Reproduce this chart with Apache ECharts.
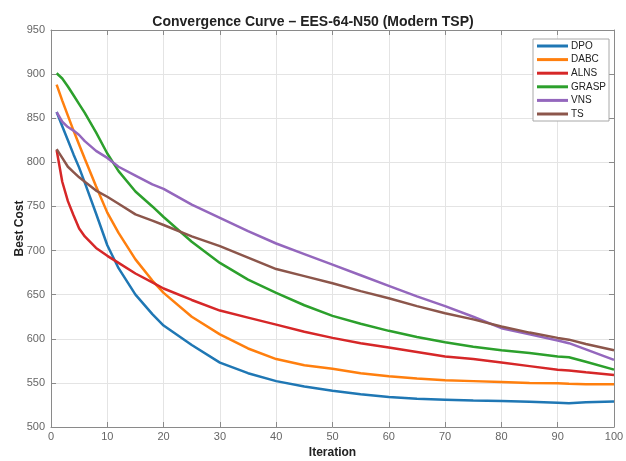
<!DOCTYPE html>
<html>
<head>
<meta charset="utf-8">
<script src="https://cdn.jsdelivr.net/npm/echarts@6/dist/echarts.min.js"></script>
<style>
html,body{margin:0;padding:0;background:#fff;}
#chart{width:626px;height:461px;}
</style>
</head>
<body>
<div id="chart"></div>
<script>
const titleText = 'Convergence Curve \u2013 EES-64-N50 (Modern TSP)';
const seriesNames = ['DPO', 'DABC', 'ALNS', 'GRASP', 'VNS', 'TS'];
const iterations = [1,2,3,4,5,6,8,10,12,15,18,20,25,30,35,40,45,50,55,60,65,70,75,80,85,90,92,95,100];
const dpo   = [857,841,825,809,794,777,742,706,680,650,628,615,593,573,561,552,546,541,537,534,532,531,530,529.5,528.5,527.5,527,528,529];
const dabc  = [888,870,853,836,820,804,773,743,720,690,666,652,625,605,589,577,570,566,561,557.5,555,553,552,551,550,549.5,549,548.5,548.5];
const alns  = [814,778,756,740,725,716,703,694,686,674,664,657,644,632,624,616,608,601,595,590,585,580,577,573,569,565,564,562,559];
const grasp = [901,895,886,876,866,856,834,810,790,767,750,738,710,686,667,652,638,626,617,609,602,596,591,587,584,580,579,574,565];
const vns   = [857,846,840,836,831,824,813,805,795,785,775,770,752,737,722,708,696,684,672,660,648,637,625,612,605,598,595,588,576];
const ts    = [815,805,795,789,783,778,768,761,753,741,734,729,716,705,692,679,671,663,654,646,637,629,622,614,607,601,599,594,587];
const seriesValues = [dpo, dabc, alns, grasp, vns, ts];
const colors = ['#1f77b4', '#ff7f0e', '#d62728', '#2ca02c', '#9467bd', '#8c564b'];

const chart = echarts.init(document.getElementById('chart'), null, {renderer: 'canvas'});
const font = 'Arial, "Liberation Sans", sans-serif';
const axisLineStyle = {color: '#8a8a8a', width: 1};
const gridLine = {show: true, lineStyle: {color: '#e4e4e4', width: 1}};

chart.setOption({
  animation: false,
  backgroundColor: '#ffffff',
  title: {
    text: titleText, left: 'center', top: 10,
    textStyle: {fontFamily: font, fontSize: 14, fontWeight: 'bold', color: '#222'}
  },
  grid: {left: 51, right: 12, top: 30, bottom: 34, containLabel: false, outerBoundsMode: 'none'},
  legend: {
    data: seriesNames, orient: 'vertical', left: 533, top: 39,
    icon: 'rect', itemWidth: 31, itemHeight: 3, itemGap: 1.6,
    padding: [1, 3, 1, 4],
    backgroundColor: '#fff', borderColor: '#a8a8a8', borderWidth: 1,
    textStyle: {fontFamily: font, fontSize: 10, color: '#222', lineHeight: 12, padding: [0, 0, 0, -2]}
  },
  xAxis: [{
    type: 'value', min: 0, max: 100, interval: 10,
    name: 'Iteration', nameLocation: 'middle', nameGap: 20,
    nameTextStyle: {fontFamily: font, fontSize: 12, fontWeight: 'bold', color: '#222'},
    axisLine: {show: true, onZero: false, lineStyle: axisLineStyle},
    axisTick: {show: true, inside: true, length: 5, lineStyle: axisLineStyle},
    axisLabel: {fontFamily: font, fontSize: 11, color: '#666', margin: 4},
    splitLine: gridLine
  }, {
    type: 'value', position: 'top', min: 0, max: 100, interval: 10,
    axisLine: {show: true, onZero: false, lineStyle: axisLineStyle},
    axisTick: {show: true, inside: true, length: 5, lineStyle: axisLineStyle},
    axisLabel: {show: false}, splitLine: {show: false}
  }],
  yAxis: [{
    type: 'value', min: 500, max: 950, interval: 50,
    name: 'Best Cost', nameLocation: 'middle', nameGap: 25, nameRotate: 90, nameMoveOverlap: false,
    nameTextStyle: {fontFamily: font, fontSize: 12, fontWeight: 'bold', color: '#222'},
    axisLine: {show: true, onZero: false, lineStyle: axisLineStyle},
    axisTick: {show: true, inside: true, length: 5, lineStyle: axisLineStyle},
    axisLabel: {fontFamily: font, fontSize: 11, color: '#666', margin: 6},
    splitLine: gridLine
  }, {
    type: 'value', position: 'right', min: 500, max: 950, interval: 50,
    axisLine: {show: true, onZero: false, lineStyle: axisLineStyle},
    axisTick: {show: true, inside: true, length: 5, lineStyle: axisLineStyle},
    axisLabel: {show: false}, splitLine: {show: false}
  }],
  series: seriesNames.map((name, i) => ({
    name: name, type: 'line', xAxisIndex: 0, yAxisIndex: 0,
    showSymbol: false, symbol: 'none', smooth: false,
    color: colors[i],
    lineStyle: {width: 2.5, color: colors[i]},
    data: iterations.map((it, k) => [it, seriesValues[i][k]])
  }))
});
</script>
</body>
</html>
